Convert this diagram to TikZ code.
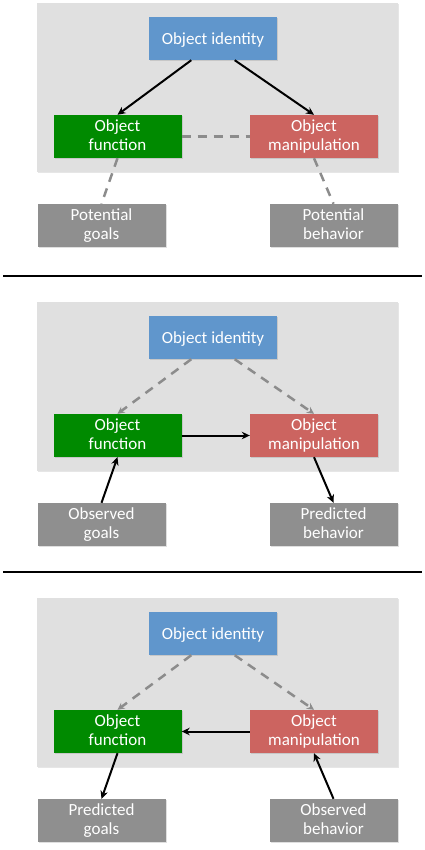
\documentclass[tikz,border=0pt]{standalone}
\usepackage{fontspec}
\setmainfont{Carlito}
\usetikzlibrary{arrows.meta, shadows}
\definecolor{idblue}{HTML}{6096CC}
\definecolor{fungreen}{HTML}{008A00}
\definecolor{manred}{HTML}{CC6460}
\definecolor{goalgray}{HTML}{8F8F8F}
\definecolor{bggray}{HTML}{E0E0E0}
\definecolor{dashgray}{HTML}{8C8C8C}
\newcommand{\boxstrut}{\rule[-2.5pt]{0pt}{18pt}}
\tikzstyle{arrow} = [line width=2pt,->,>={Stealth[length=8pt,width=7.5pt]}]
\tikzstyle{dasharrow} = [line width=2.5pt,draw=dashgray,dash pattern=on 9pt off 7pt,->,>={Stealth[length=7pt,width=7pt]}]
\tikzstyle{dashline} = [line width=2.5pt,draw=dashgray,dash pattern=on 9pt off 7pt]
\tikzstyle{box} = [rectangle, minimum width=128pt, minimum height=43pt, inner sep=0pt,
  text=white, align=center, font=\fontsize{17}{19.5}\selectfont,
  execute at begin node=\boxstrut, execute at end node=\boxstrut,
  drop shadow={shadow xshift=1pt, shadow yshift=-1.2pt, opacity=0.25}]

\begin{document}
\begin{tikzpicture}[x=1pt,y=-1pt]
\useasboundingbox (0,0) rectangle (425,850);

\foreach \p/\dy/\lg/\rg in {1/0/Potential/Potential,2/299/Observed/Predicted,3/595/Predicted/Observed}
{
\fill[bggray, drop shadow={shadow xshift=1pt, shadow yshift=-1.2pt, opacity=0.2}] (37,\dy+3) rectangle (398,\dy+172);
\node[box, fill=idblue] (id\p) at (213,\dy+38.5) {Object identity};
\node[box, fill=fungreen] (fun\p) at (117.5,\dy+136.5) {Object\\function};
\node[box, fill=manred] (man\p) at (314,\dy+136.5) {Object\\manipulation};
\node[box, fill=goalgray] (goal\p) at (101.5,\dy+225.5) {\lg\\goals};
\node[box, fill=goalgray] (beh\p) at (333.5,\dy+225.5) {\rg\\behavior};
}

%separators
\draw[line width=2.5pt] (3,276) -- (422,276);
\draw[line width=2.5pt] (3,572) -- (422,572);

%top: identity drives function and manipulation
\draw[arrow] (id1.225) -- (fun1.north);
\draw[arrow] (id1.315) -- (man1.north);
\draw[dashline] (fun1.east) -- (man1.west);
\draw[dashline] (fun1.south) -- (goal1.north);
\draw[dashline] (man1.south) -- (beh1.north);

%middle: observed goals
\draw[dasharrow] (id2.225) -- (fun2.north);
\draw[dasharrow] (id2.315) -- (man2.north);
\draw[arrow] (fun2.east) -- (man2.west);
\draw[arrow] (goal2.north) -- (fun2.south);
\draw[arrow] (man2.south) -- (beh2.north);

%bottom: observed behavior
\draw[dasharrow] (id3.225) -- (fun3.north);
\draw[dasharrow] (id3.315) -- (man3.north);
\draw[arrow] (man3.west) -- (fun3.east);
\draw[arrow] (fun3.south) -- (goal3.north);
\draw[arrow] (beh3.north) -- (man3.south);

\end{tikzpicture}
\end{document}
